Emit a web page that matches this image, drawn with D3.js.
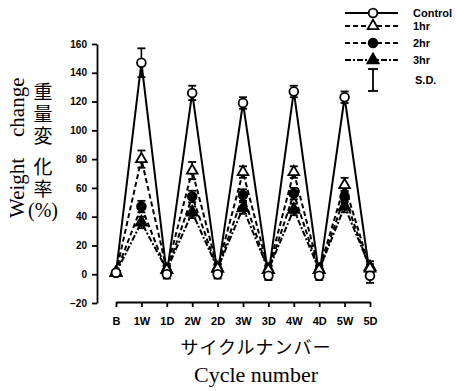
<!DOCTYPE html>
<html>
<head>
<meta charset="utf-8">
<script src="https://cdn.jsdelivr.net/npm/d3@7/dist/d3.min.js"></script>
<style>
  html, body { margin: 0; padding: 0; background: #fff; }
  svg { display: block; }
  .axis text { font-family: "Liberation Sans", Arial, sans-serif; font-weight: bold; fill: #000; }
  .axis path, .axis line { stroke: #000; stroke-width: 1.8; }
</style>
</head>
<body>
<svg id="chart" width="457" height="391"></svg>
<script>
// Measurement points: baseline, then each weekly cycle (W) and its following day (D)
const categories = ["B", "1W", "1D", "2W", "2D", "3W", "3D", "4W", "4D", "5W", "5D"];

// Mean weight change (%) per group
const controlMean = [1, 147, 0, 126, 0, 119, -1, 127, -1, 123, -1];
const hr1Mean     = [1, 80, 3, 72, 4, 71, 3, 71, 3, 62, 4];
const hr2Mean     = [1, 47, 2, 54, 3, 55, 2, 56, 2, 54, 3];
const hr3Mean     = [1, 36, 3, 43, 4, 46, 3, 45, 3, 47, 5];

// Standard deviations per group
const controlSD = [1, 10, 3, 5, 3, 4, 3, 4, 3, 4, 5];
const hr1SD     = [1, 6, 3, 6, 3, 4, 3, 4, 3, 5, 3];
const hr2SD     = [1, 4, 3, 4, 3, 4, 3, 4, 3, 4, 3];
const hr3SD     = [1, 4, 3, 4, 3, 4, 3, 4, 3, 4, 4];

const seriesNames = ["Control", "1hr", "2hr", "3hr"];
const yTicks = [-20, 0, 20, 40, 60, 80, 100, 120, 140, 160];

const series = [
  { name: seriesNames[0], mean: controlMean, sd: controlSD, dash: null,      symbol: d3.symbolCircle,   size: 60, filled: false },
  { name: seriesNames[1], mean: hr1Mean,     sd: hr1SD,     dash: "5,3",     symbol: d3.symbolTriangle, size: 50, filled: false },
  { name: seriesNames[2], mean: hr2Mean,     sd: hr2SD,     dash: "5,3",     symbol: d3.symbolCircle,   size: 60, filled: true },
  { name: seriesNames[3], mean: hr3Mean,     sd: hr3SD,     dash: "6,2,2,2", symbol: d3.symbolTriangle, size: 55, filled: true }
];

const svg = d3.select("#chart");

const x = d3.scalePoint().domain(categories).range([116, 370]);
const y = d3.scaleLinear().domain([-20, 160]).range([303, 44]);

// Y axis (detached to the left)
const yAxis = svg.append("g")
  .attr("class", "axis")
  .attr("transform", "translate(97,0)")
  .call(d3.axisLeft(y).tickValues(yTicks).tickSize(5).tickSizeOuter(0).tickPadding(5));
yAxis.selectAll("text").style("font-size", "10px");

// X axis (detached below)
const xAxis = svg.append("g")
  .attr("class", "axis")
  .attr("transform", "translate(0,302)")
  .call(d3.axisBottom(x).tickSize(5).tickSizeOuter(0).tickPadding(10));
xAxis.selectAll("text").style("font-size", "11px");

// Lines
const line = d3.line()
  .x((d, i) => x(categories[i]))
  .y(d => y(d));

series.slice().reverse().forEach(s => {
  svg.append("path")
    .datum(s.mean)
    .attr("d", line)
    .attr("fill", "none")
    .attr("stroke", "#000")
    .attr("stroke-width", 2)
    .attr("stroke-dasharray", s.dash);
});

// Error bars (mean ± SD)
series.slice().reverse().forEach(s => {
  const g = svg.append("g");
  s.mean.forEach((m, i) => {
    const cx = x(categories[i]);
    const top = y(m + s.sd[i]);
    const bot = y(m - s.sd[i]);
    g.append("line").attr("x1", cx).attr("x2", cx).attr("y1", top).attr("y2", bot)
      .attr("stroke", "#000").attr("stroke-width", 1.6);
    [top, bot].forEach(yy => {
      g.append("line").attr("x1", cx - 4).attr("x2", cx + 4).attr("y1", yy).attr("y2", yy)
        .attr("stroke", "#000").attr("stroke-width", 1.8);
    });
  });
});

// Markers
series.slice().reverse().forEach(s => {
  const sym = d3.symbol().type(s.symbol).size(s.size);
  svg.append("g").selectAll("path")
    .data(s.mean)
    .join("path")
    .attr("d", sym)
    .attr("transform", (d, i) => `translate(${x(categories[i])},${y(d)})`)
    .attr("fill", s.filled ? "#000" : "#fff")
    .attr("stroke", "#000")
    .attr("stroke-width", 1.8);
});

// Legend
const legendRows = [13, 26, 43, 60];
const legend = svg.append("g");
series.forEach((s, i) => {
  const ly = legendRows[i];
  legend.append("line")
    .attr("x1", 345).attr("x2", 398).attr("y1", ly).attr("y2", ly)
    .attr("stroke", "#000").attr("stroke-width", 1.8)
    .attr("stroke-dasharray", s.dash);
  legend.append("path")
    .attr("d", d3.symbol().type(s.symbol).size(s.size)())
    .attr("transform", `translate(373,${ly})`)
    .attr("fill", s.filled ? "#000" : "#fff")
    .attr("stroke", "#000").attr("stroke-width", 1.8);
  legend.append("text")
    .attr("x", 413).attr("y", ly).attr("dy", "0.35em")
    .style("font-family", "'Liberation Sans', Arial, sans-serif")
    .style("font-weight", "bold").style("font-size", "11px")
    .text(s.name);
});
// S.D. key
legend.append("line").attr("x1", 373).attr("x2", 373).attr("y1", 69).attr("y2", 91)
  .attr("stroke", "#000").attr("stroke-width", 1.8);
[69, 91].forEach(yy => legend.append("line").attr("x1", 368).attr("x2", 378)
  .attr("y1", yy).attr("y2", yy).attr("stroke", "#000").attr("stroke-width", 1.8));
legend.append("text")
  .attr("x", 415).attr("y", 80).attr("dy", "0.35em")
  .style("font-family", "'Liberation Sans', Arial, sans-serif")
  .style("font-weight", "bold").style("font-size", "11px")
  .text("S.D.");

// Y axis title: English (rotated) and Japanese (set vertically)
const serif = "'Liberation Serif', 'Times New Roman', serif";
svg.append("text")
  .attr("transform", "translate(24,137) rotate(-90)")
  .style("font-family", serif)
  .style("font-size", "21px")
  .text("change");
svg.append("text")
  .attr("transform", "translate(24,218) rotate(-90)")
  .style("font-family", serif)
  .style("font-size", "21px")
  .text("Weight");

[["重量変", 82], ["化率", 157]].forEach(([t, top]) => {
  svg.append("text")
    .attr("x", 43).attr("y", top)
    .style("writing-mode", "vertical-rl")
    .style("font-family", "'Noto Sans CJK JP', sans-serif")
    .style("font-size", "19px")
    .style("letter-spacing", "3px")
    .text(t);
});
svg.append("text")
  .attr("x", 43).attr("y", 210).attr("dy", "0.35em")
  .attr("text-anchor", "middle")
  .style("font-family", serif)
  .style("font-size", "20px")
  .text("(%)");

// X axis titles
svg.append("text")
  .attr("x", 256).attr("y", 354)
  .attr("text-anchor", "middle")
  .style("font-family", "'Noto Sans CJK JP', sans-serif")
  .style("font-size", "18px")
  .style("letter-spacing", "1px")
  .text("サイクルナンバー");
svg.append("text")
  .attr("x", 256).attr("y", 382)
  .attr("text-anchor", "middle")
  .style("font-family", serif)
  .style("font-size", "22px")
  .text("Cycle number");
</script>
</body>
</html>
